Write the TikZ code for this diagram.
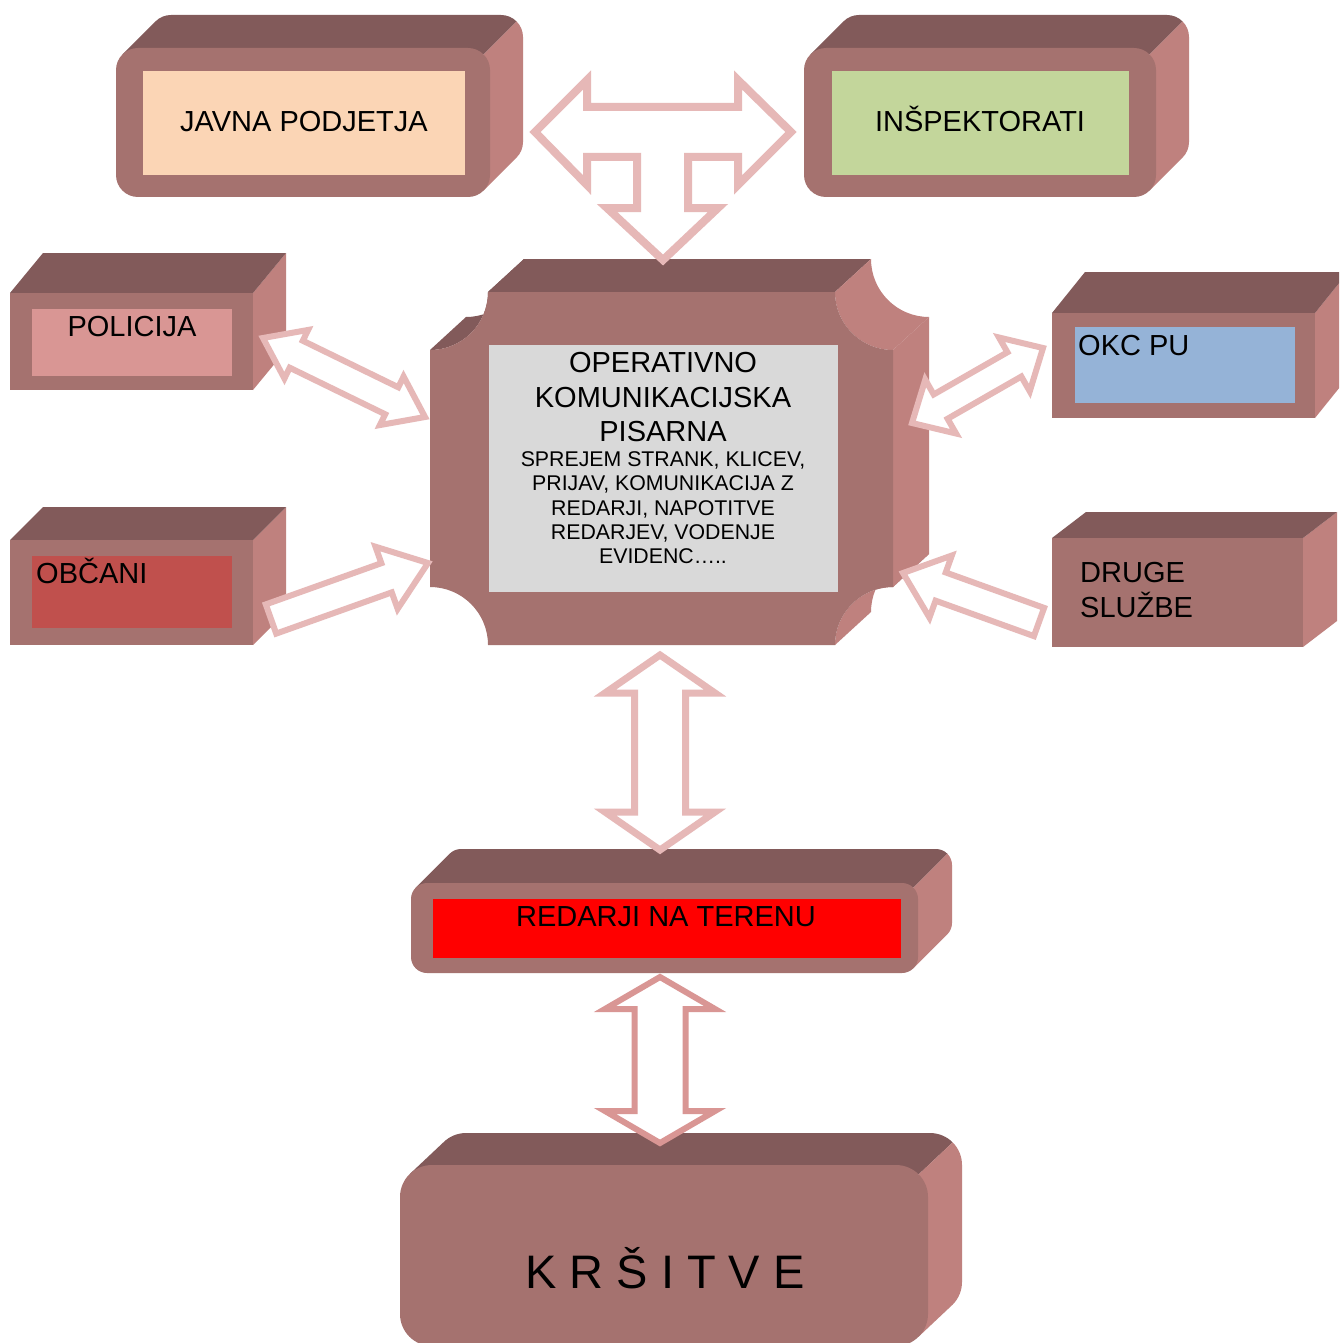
\documentclass[tikz,border=0pt]{standalone}
\usepackage{fontspec}
\setmainfont{Liberation Sans}
\definecolor{topc}{HTML}{825A5A}
\definecolor{frontc}{HTML}{A5726F}
\definecolor{sidec}{HTML}{BF817E}
\definecolor{arrowc}{HTML}{E6B8B7}
\definecolor{arrowd}{HTML}{D99694}
\definecolor{peach}{HTML}{FBD5B5}
\definecolor{olive}{HTML}{C3D69B}
\definecolor{rose}{HTML}{D99694}
\definecolor{brick}{HTML}{C0504D}
\definecolor{skyb}{HTML}{95B3D7}
\definecolor{greyc}{HTML}{D9D9D9}
\tikzset{
  topface/.style={fill=topc},
  frontface/.style={fill=frontc},
  sideface/.style={fill=sidec},
  blockarr/.style={draw=arrowc, line width=6pt, fill=white, miter limit=10},
  lbl/.style={inner sep=0pt, anchor=base, font=\fontsize{29}{34}\selectfont},
  lblw/.style={lbl, anchor=base west},
  small/.style={inner sep=0pt, anchor=base, font=\fontsize{21.3}{24}\selectfont},
}
\newdimen\bkXa \newdimen\bkYa \newdimen\bkXb \newdimen\bkYb
\newcommand\bkmeasure[2]{%
  \pgfextractx{\bkXa}{\pgfpointanchor{#1}{center}}%
  \pgfextracty{\bkYa}{\pgfpointanchor{#1}{center}}%
  \pgfextractx{\bkXb}{\pgfpointanchor{#2}{center}}%
  \pgfextracty{\bkYb}{\pgfpointanchor{#2}{center}}%
  \pgfmathsetmacro\bkAng{atan2(\bkYb-\bkYa,\bkXb-\bkXa)}%
  \pgfmathsetmacro\bkLen{veclen(\bkXb-\bkXa,\bkYb-\bkYa)}}
% double block arrow: [style]{from}{to}{head length}{head half width}{shaft half width}
\newcommand\dblarrow[6][]{%
  \bkmeasure{#2}{#3}%
  \begin{scope}[shift={(#2)},rotate=\bkAng]
    \draw[blockarr,#1] (0,0) -- (#4,#5) -- (#4,#6) -- (\bkLen-#4,#6) -- (\bkLen-#4,#5)
      -- (\bkLen,0) -- (\bkLen-#4,-#5) -- (\bkLen-#4,-#6) -- (#4,-#6) -- (#4,-#5) -- cycle;
  \end{scope}}
% single block arrow from tail to tip
\newcommand\sglarrow[6][]{%
  \bkmeasure{#2}{#3}%
  \begin{scope}[shift={(#2)},rotate=\bkAng]
    \draw[blockarr,#1] (0,#6) -- (\bkLen-#4,#6) -- (\bkLen-#4,#5) -- (\bkLen,0)
      -- (\bkLen-#4,-#5) -- (\bkLen-#4,-#6) -- (0,-#6) -- cycle;
  \end{scope}}
% plain 3D box: x1 y1 x2 y2 dx dy
\newcommand\plainbox[6]{%
  \fill[sideface] (#3,#2) -- (#3+#5,#2+#6) -- (#3+#5,#4+#6) -- (#3,#4) -- cycle;
  \fill[topface] (#1,#2) -- (#1+#5,#2+#6) -- (#3+#5,#2+#6) -- (#3,#2) -- cycle;
  \fill[frontface] (#1,#2) rectangle (#3,#4);}
% rounded 3D box: x1 y1 x2 y2 dx dy r
\newcommand\roundbox[7]{%
  \fill[topface] (#1+0.2929*#7,#2+0.2929*#7) -- (#1+0.2929*#7+#5,#2+0.2929*#7+#6)
     arc[start angle=135,end angle=90,radius=#7pt] -- (#3-#7+#5,#2+#6)
     arc[start angle=90,end angle=45,radius=#7pt] -- (#3-0.2929*#7,#2+0.2929*#7) -- cycle;
  \fill[sideface] (#3-0.2929*#7+#5,#2+0.2929*#7+#6)
     arc[start angle=45,end angle=0,radius=#7pt] -- (#3+#5,#4-#7+#6)
     arc[start angle=0,end angle=-45,radius=#7pt] -- (#3-0.2929*#7,#4-0.2929*#7)
     -- (#3-0.2929*#7,#2+0.2929*#7) -- cycle;
  \fill[frontface, rounded corners=#7pt] (#1,#2) rectangle (#3,#4);}
\begin{document}
\begin{tikzpicture}[x=1pt,y=-1pt]
\clip (0,0) rectangle (1339,1343);
\fill[white] (0,0) rectangle (1339,1343);

% ---- JAVNA PODJETJA
\roundbox{116}{48}{490}{197}{33}{-33}{22}
\fill[peach] (143,71) rectangle (465,175);
\node[lbl] (javna) at (304,132) {JAVNA PODJETJA};

% ---- INSPEKTORATI
\roundbox{804}{48}{1156}{197}{33}{-33}{22}
\fill[olive] (832,71) rectangle (1129,175);
\node[lbl] (insp) at (980,132) {INŠPEKTORATI};

% ---- POLICIJA
\plainbox{10}{293}{253}{390}{33}{-40}
\fill[rose] (32,309) rectangle (232,376);
\node[lbl] (pol) at (132,336) {POLICIJA};

% ---- OBCANI
\plainbox{10}{540}{253}{645}{33}{-33}
\fill[brick] (32,556) rectangle (232,628);
\node[lblw] (obc) at (36,583) {OBČANI};

% ---- OKC PU
\plainbox{1052}{313}{1315}{418}{33}{-41}
\fill[skyb] (1075,327) rectangle (1295,403);
\node[lblw] (okc) at (1078,355) {OKC PU};

% ---- DRUGE SLUZBE
\plainbox{1052}{538}{1303}{647}{34}{-26}
\node[lblw] (druge) at (1080,582) {DRUGE};
\node[lblw] (sluzbe) at (1080,617) {SLUŽBE};

% ---- central plaque
\fill[topface] (488,292) -- (524,259) -- (871,259) -- (835,292) -- cycle;
\fill[topface] (430,350) arc[start angle=-90,end angle=0,radius=58pt] -- (524,259)
   arc[start angle=0,end angle=-90,radius=58pt] -- cycle;
\fill[sideface] (893,350) -- (929,317) -- (929,554) -- (893,587) -- cycle;
\fill[sideface] (835,292) arc[start angle=180,end angle=270,radius=58pt] -- (929,317)
   arc[start angle=270,end angle=180,radius=58pt] -- cycle;
\fill[sideface] (893,587) arc[start angle=90,end angle=180,radius=58pt] -- (871,612)
   arc[start angle=180,end angle=90,radius=58pt] -- cycle;
\fill[frontface] (488,292) -- (835,292) arc[start angle=180,end angle=270,radius=58pt]
   -- (893,587) arc[start angle=90,end angle=180,radius=58pt]
   -- (488,645) arc[start angle=0,end angle=90,radius=58pt]
   -- (430,350) arc[start angle=-90,end angle=0,radius=58pt] -- cycle;
\fill[greyc] (489,345) rectangle (838,592);
\node[lbl] (op1) at (663,372) {OPERATIVNO};
\node[lbl] (op2) at (663,407) {KOMUNIKACIJSKA};
\node[lbl] (op3) at (663,441) {PISARNA};
\node[small] (d1) at (663,466) {SPREJEM STRANK, KLICEV,};
\node[small] (d2) at (663,490) {PRIJAV, KOMUNIKACIJA Z};
\node[small] (d3) at (663,515) {REDARJI, NAPOTITVE};
\node[small] (d4) at (663,539) {REDARJEV, VODENJE};
\node[small] (d5) at (663,563) {EVIDENC…..};

% ---- REDARJI NA TERENU
\roundbox{411}{883}{918}{973}{34}{-34}{16}
\fill[red] (433,899) rectangle (901,958);
\node[lbl] (red) at (666,926) {REDARJI NA TERENU};

% ---- KRSITVE
\roundbox{400}{1165}{928}{1346}{34}{-32}{32}
\node[inner sep=0pt, anchor=base, font=\fontsize{47}{56}\selectfont] (krs) at (665,1288) {K R Š I T V E};

% ---- connectors
\coordinate (tL) at (535,132);
\coordinate (tR) at (791,132);
\coordinate (tD) at (663,260);
\draw[blockarr, line width=8pt] (tL) -- (587,80) -- (587,107) -- (738,107) -- (738,80) -- (tR)
  -- (738,185) -- (738,157) -- (688,157) -- (688,208) -- (718,208) -- (tD)
  -- (607,208) -- (637,208) -- (637,157) -- (587,157) -- (587,185) -- cycle;

\coordinate (polE) at (263,338);
\coordinate (cenW1) at (425,417);
\dblarrow{polE}{cenW1}{37}{27}{15}

\coordinate (obcE) at (271,619);
\coordinate (cenW2) at (428,563);
\sglarrow{obcE}{cenW2}{44}{33}{15.5}

\coordinate (cenE1) at (912,423);
\coordinate (okcW) at (1043,348);
\dblarrow{cenE1}{okcW}{33}{31}{14}

\coordinate (drugeW) at (1039,622);
\coordinate (cenE2) at (903,573);
\sglarrow{drugeW}{cenE2}{40}{33}{15}

\coordinate (cenS) at (660,655);
\coordinate (redN) at (660,850);
\dblarrow[line width=7pt]{cenS}{redN}{38}{55}{25.5}

\coordinate (redS) at (660,977);
\coordinate (krsN) at (660,1143);
\dblarrow[draw=arrowd]{redS}{krsN}{32}{55}{25.5}
\end{tikzpicture}
\end{document}
